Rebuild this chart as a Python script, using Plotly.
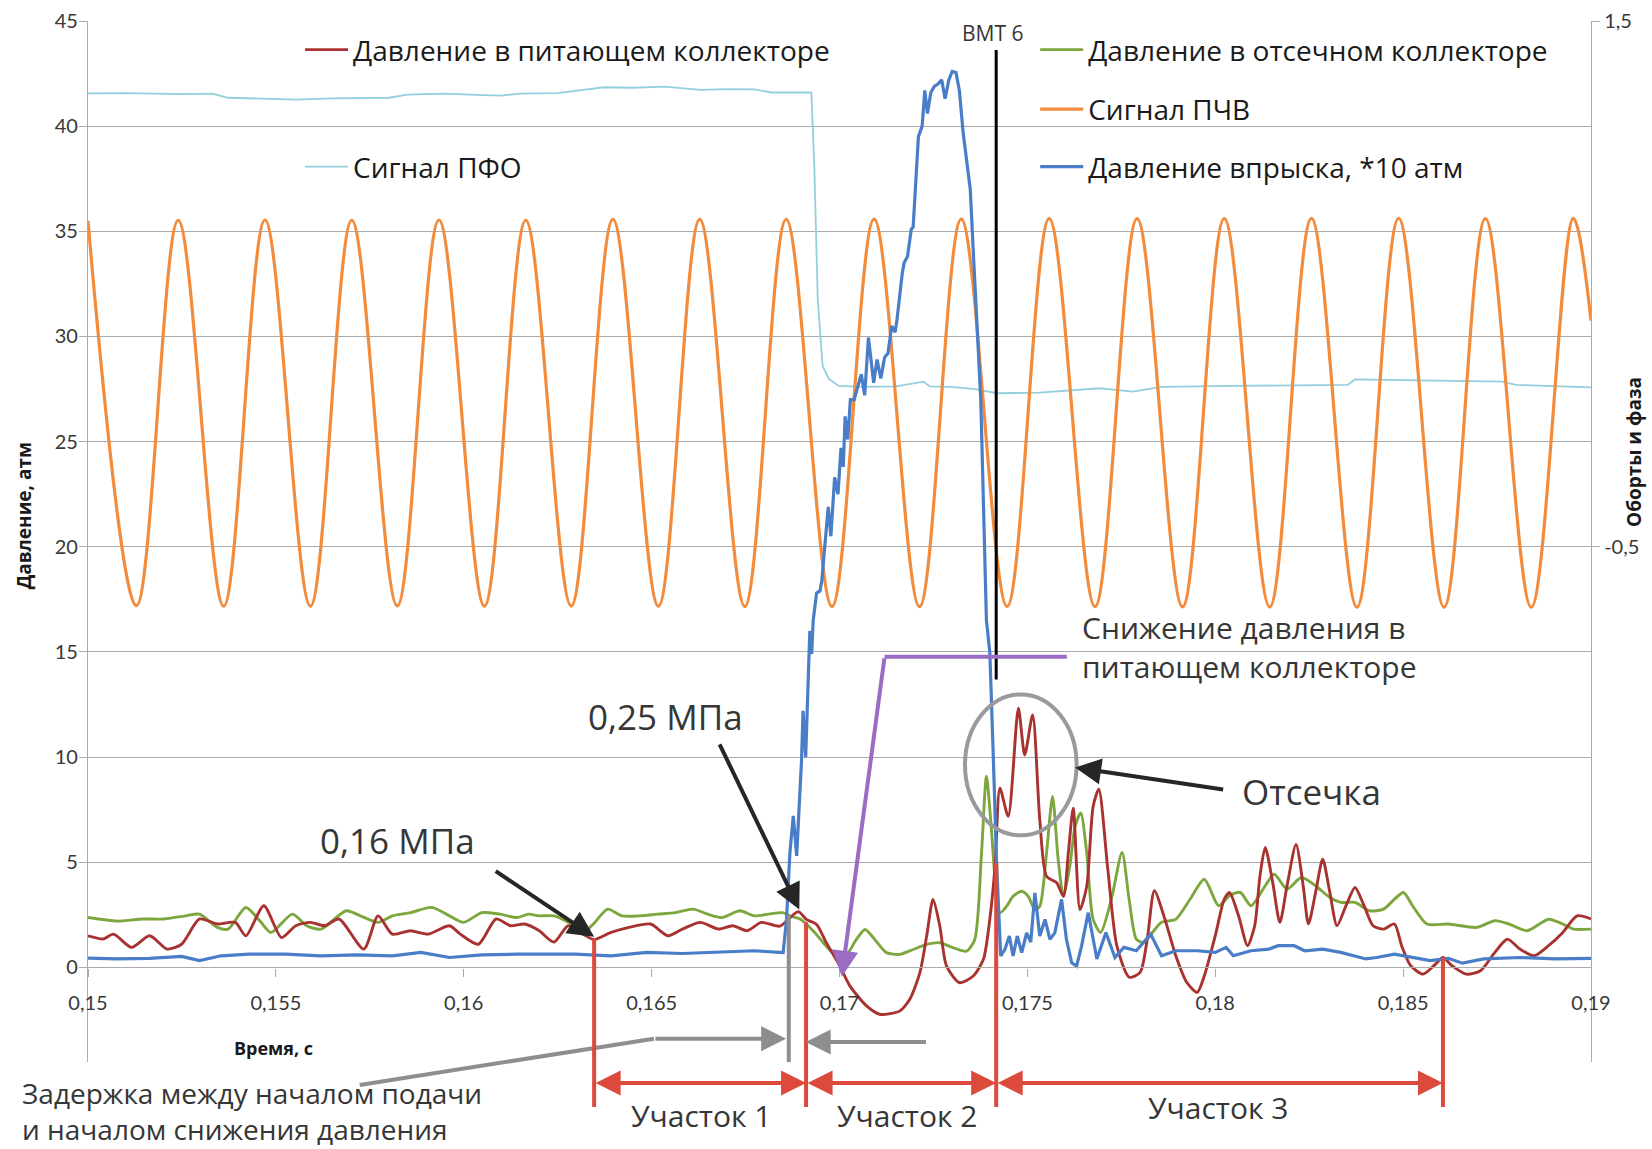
import plotly.graph_objects as go

# ---------------- data ----------------
# time, s
t_red = [0.15000, 0.15040, 0.15068, 0.15116, 0.15164, 0.15211, 0.15249, 0.15297, 0.15344, 0.15392,
         0.15420, 0.15468, 0.15515, 0.15553, 0.15592, 0.15630, 0.15668, 0.15734, 0.15772, 0.15810,
         0.15858, 0.15905, 0.15962, 0.15991, 0.16039, 0.16086, 0.16124, 0.16162, 0.16200, 0.16240,
         0.16278, 0.16320, 0.16347, 0.16392, 0.16440, 0.16497, 0.16544, 0.16582, 0.16630, 0.16678,
         0.16716, 0.16754, 0.16792, 0.16841, 0.16890, 0.16912, 0.16939, 0.16965, 0.17001, 0.17028,
         0.17072, 0.17107, 0.17135, 0.17161, 0.17187, 0.17214, 0.17232, 0.17249, 0.17267, 0.17285,
         0.17320, 0.17356, 0.17383, 0.17400, 0.17414, 0.17427, 0.17449, 0.17476, 0.17493, 0.17514,
         0.17533, 0.17551, 0.17578, 0.17596, 0.17609, 0.17622, 0.17640, 0.17658, 0.17675, 0.17690,
         0.17714, 0.17738, 0.17771, 0.17800, 0.17819, 0.17838, 0.17866, 0.17895, 0.17924, 0.17952,
         0.17971, 0.18000, 0.18024, 0.18038, 0.18062, 0.18086, 0.18105, 0.18119, 0.18133, 0.18153,
         0.18172, 0.18191, 0.18215, 0.18234, 0.18248, 0.18267, 0.18286, 0.18305, 0.18324, 0.18348,
         0.18372, 0.18396, 0.18420, 0.18448, 0.18477, 0.18496, 0.18520, 0.18553, 0.18582, 0.18606,
         0.18630, 0.18668, 0.18706, 0.18744, 0.18777, 0.18811, 0.18849, 0.18887, 0.18925, 0.18963,
         0.19000]
v_red = [1.50, 1.35, 1.58, 0.95, 1.50, 0.87, 1.10, 2.30, 2.06, 2.14,
         1.50, 2.93, 1.42, 1.98, 2.14, 1.98, 2.30, 0.87, 2.45, 1.58,
         1.74, 1.58, 1.98, 1.58, 1.10, 2.30, 1.98, 2.06, 1.75, 1.20,
         1.98, 1.55, 1.32, 1.66, 1.90, 2.06, 1.50, 1.82, 2.14, 1.82,
         1.98, 1.74, 2.14, 1.96, 2.65, 2.28, 2.04, 1.17, 0.06, -0.89,
         -1.83, -2.23, -2.20, -2.07, -1.52, -0.25, 1.49, 3.23, 1.96, 0.06,
         -0.73, -0.41, 0.38, 2.28, 4.81, 8.52, 7.18, 12.32, 10.10, 12.00,
         7.02, 4.33, 4.02, 3.38, 5.44, 7.57, 2.75, 3.86, 7.65, 8.47,
         4.67, 1.03, -0.47, -0.24, 1.34, 3.64, 2.29, 0.55, -0.71, -1.19,
         -0.40, 1.50, 3.24, 3.56, 2.45, 1.03, 1.98, 4.35, 5.70, 4.03,
         2.14, 3.88, 5.85, 3.88, 2.06, 3.56, 5.14, 3.56, 1.98, 2.93,
         3.80, 2.93, 1.98, 1.82, 2.06, 1.03, 0.08, -0.32, 0.08, 0.47,
         0.08, -0.32, -0.16, 0.71, 1.34, 0.87, 0.55, 1.03, 1.66, 2.45,
         2.30]

t_green = [0.15000, 0.15078, 0.15145, 0.15202, 0.15259, 0.15297, 0.15344, 0.15373, 0.15420, 0.15458,
           0.15487, 0.15544, 0.15582, 0.15620, 0.15687, 0.15725, 0.15772, 0.15810, 0.15858, 0.15915,
           0.15962, 0.16000, 0.16048, 0.16096, 0.16143, 0.16172, 0.16200, 0.16240, 0.16278, 0.16316,
           0.16345, 0.16383, 0.16421, 0.16468, 0.16516, 0.16563, 0.16611, 0.16649, 0.16687, 0.16735,
           0.16773, 0.16811, 0.16849, 0.16868, 0.16896, 0.16934, 0.16965, 0.16992, 0.17019, 0.17045,
           0.17068, 0.17090, 0.17125, 0.17161, 0.17196, 0.17232, 0.17267, 0.17303, 0.17338, 0.17360,
           0.17378, 0.17391, 0.17405, 0.17414, 0.17427, 0.17445, 0.17462, 0.17485, 0.17502, 0.17520,
           0.17533, 0.17551, 0.17567, 0.17582, 0.17596, 0.17613, 0.17627, 0.17642, 0.17658, 0.17675,
           0.17695, 0.17723, 0.17752, 0.17771, 0.17790, 0.17809, 0.17857, 0.17895, 0.17933, 0.17971,
           0.18009, 0.18038, 0.18067, 0.18095, 0.18133, 0.18157, 0.18191, 0.18229, 0.18267, 0.18305,
           0.18334, 0.18372, 0.18410, 0.18448, 0.18477, 0.18501, 0.18525, 0.18563, 0.18620, 0.18696,
           0.18744, 0.18782, 0.18830, 0.18887, 0.18925, 0.18954, 0.19000]
v_green = [2.37, 2.20, 2.30, 2.30, 2.45, 2.53, 1.90, 1.82, 2.85, 2.20,
           1.66, 2.53, 1.98, 1.82, 2.69, 2.45, 2.14, 2.45, 2.60, 2.85,
           2.45, 2.14, 2.60, 2.53, 2.37, 2.53, 2.45, 2.45, 2.14, 1.66,
           2.06, 2.77, 2.45, 2.45, 2.53, 2.60, 2.77, 2.53, 2.37, 2.69,
           2.45, 2.53, 2.60, 2.45, 2.29, 1.66, 1.00, 0.54, 0.62, 1.33,
           1.80, 1.41, 0.70, 0.62, 0.85, 1.09, 1.17, 0.93, 0.77, 1.33,
           5.44, 9.08, 6.39, 4.17, 2.59, 2.91, 3.38, 3.62, 3.38, 2.75,
           2.91, 5.44, 8.13, 5.12, 3.38, 4.81, 6.70, 7.34, 5.44, 2.28,
           1.66, 3.20, 5.46, 3.20, 1.34, 1.19, 2.14, 2.29, 3.24, 4.19,
           2.93, 3.40, 3.56, 2.93, 3.88, 4.43, 3.72, 4.27, 3.88, 3.32,
           3.09, 3.09, 2.69, 2.77, 3.24, 3.56, 2.93, 2.06, 2.06, 1.90,
           2.22, 2.06, 1.74, 2.29, 2.06, 1.82, 1.82]

t_blue = [0.15000, 0.15078, 0.15164, 0.15249, 0.15297, 0.15354, 0.15430, 0.15525, 0.15620, 0.15715,
          0.15810, 0.15886, 0.15962, 0.16048, 0.16143, 0.16255, 0.16297, 0.16392, 0.16487, 0.16582,
          0.16677, 0.16773, 0.16840, 0.16850, 0.16859, 0.16868, 0.16877, 0.16886, 0.16899, 0.16903,
          0.16910, 0.16917, 0.16921, 0.16926, 0.16930, 0.16939, 0.16948, 0.16953, 0.16963, 0.16970,
          0.16977, 0.16987, 0.16996, 0.17004, 0.17010, 0.17015, 0.17022, 0.17029, 0.17039, 0.17058,
          0.17067, 0.17077, 0.17091, 0.17100, 0.17110, 0.17120, 0.17129, 0.17139, 0.17148, 0.17153,
          0.17167, 0.17172, 0.17181, 0.17191, 0.17196, 0.17205, 0.17210, 0.17220, 0.17227, 0.17234,
          0.17243, 0.17253, 0.17262, 0.17272, 0.17281, 0.17291, 0.17300, 0.17310, 0.17319, 0.17329,
          0.17338, 0.17348, 0.17357, 0.17367, 0.17376, 0.17391, 0.17400, 0.17409, 0.17418, 0.17429,
          0.17440, 0.17452, 0.17462, 0.17473, 0.17485, 0.17498, 0.17509, 0.17520, 0.17533, 0.17547,
          0.17560, 0.17573, 0.17591, 0.17604, 0.17618, 0.17631, 0.17644, 0.17662, 0.17685, 0.17709,
          0.17733, 0.17757, 0.17790, 0.17828, 0.17857, 0.17895, 0.17952, 0.18000, 0.18029, 0.18048,
          0.18095, 0.18143, 0.18167, 0.18210, 0.18238, 0.18286, 0.18334, 0.18401, 0.18429, 0.18477,
          0.18525, 0.18572, 0.18620, 0.18658, 0.18715, 0.18811, 0.18906, 0.19000]
v_blue = [0.44, 0.40, 0.43, 0.52, 0.32, 0.55, 0.63, 0.63, 0.55, 0.59,
          0.55, 0.71, 0.47, 0.59, 0.63, 0.63, 0.63, 0.55, 0.71, 0.66,
          0.71, 0.79, 0.71, 0.70, 2.28, 5.44, 7.20, 5.30, 9.87, 12.20,
          10.00, 13.30, 16.00, 14.90, 16.50, 17.80, 17.90, 18.40, 20.60, 21.90,
          20.50, 23.30, 22.50, 24.70, 23.80, 26.20, 25.10, 27.00, 27.00, 28.20,
          27.20, 29.95, 27.80, 28.90, 28.00, 29.00, 29.20, 30.50, 30.20, 30.80,
          33.00, 33.50, 33.80, 35.10, 35.20, 38.10, 39.50, 40.00, 41.70, 40.60,
          41.60, 41.90, 42.00, 42.20, 41.30, 42.20, 42.60, 42.55, 41.70, 39.70,
          38.40, 37.00, 33.70, 30.20, 27.00, 16.50, 15.00, 10.20, 5.00, 0.54,
          0.85, 1.49, 0.54, 1.49, 0.70, 1.64, 1.20, 3.54, 1.49, 2.28,
          1.33, 1.64, 3.23, 1.33, 0.22, 0.06, 1.00, 2.60, 0.40, 1.66,
          0.47, 0.95, 0.79, 1.58, 0.55, 0.79, 0.79, 0.71, 0.95, 0.55,
          0.79, 0.87, 1.03, 1.03, 0.79, 0.87, 0.71, 0.40, 0.47, 0.63,
          0.47, 0.32, 0.43, 0.20, 0.40, 0.47, 0.40, 0.43]

# right axis ("Оборты и фаза") signals
t_pfo = [0.15000, 0.15100, 0.15250, 0.15330, 0.15373, 0.15450, 0.15553, 0.15650, 0.15801, 0.15850,
         0.15950, 0.16050, 0.16100, 0.16150, 0.16250, 0.16373, 0.16450, 0.16535, 0.16630, 0.16700,
         0.16773, 0.16820, 0.16925, 0.16933, 0.16942, 0.16955, 0.16972, 0.16998, 0.17058, 0.17150,
         0.17224, 0.17240, 0.17296, 0.17362, 0.17419, 0.17533, 0.17693, 0.17780, 0.17857, 0.18048,
         0.18353, 0.18372, 0.18525, 0.18763, 0.18801, 0.19000]
v_pfo = [1.225, 1.226, 1.222, 1.224, 1.208, 1.204, 1.201, 1.206, 1.208, 1.220,
         1.224, 1.218, 1.216, 1.224, 1.226, 1.248, 1.246, 1.250, 1.238, 1.241,
         1.240, 1.228, 1.228, 0.948, 0.444, 0.188, 0.138, 0.112, 0.108, 0.110,
         0.128, 0.110, 0.108, 0.100, 0.084, 0.086, 0.103, 0.090, 0.108, 0.112,
         0.116, 0.137, 0.134, 0.128, 0.116, 0.106]

t_pchv = [0.15000, 0.15129, 0.15240, 0.15361, 0.15471, 0.15592, 0.15702, 0.15823, 0.15934, 0.16055,
          0.16165, 0.16286, 0.16397, 0.16518, 0.16628, 0.16748, 0.16858, 0.16980, 0.17092, 0.17213,
          0.17324, 0.17446, 0.17558, 0.17680, 0.17792, 0.17913, 0.18024, 0.18145, 0.18256, 0.18377,
          0.18488, 0.18609, 0.18719, 0.18841, 0.18953, 0.19000]
v_pchv = [0.740, -0.724, 0.742, -0.726, 0.743, -0.726, 0.742, -0.725, 0.743, -0.726,
          0.742, -0.725, 0.745, -0.726, 0.745, -0.727, 0.745, -0.727, 0.746, -0.728,
          0.746, -0.727, 0.748, -0.728, 0.748, -0.729, 0.748, -0.729, 0.749, -0.730,
          0.749, -0.730, 0.748, -0.730, 0.749, 0.360]

for a, b in [(t_red, v_red), (t_green, v_green), (t_blue, v_blue), (t_pfo, v_pfo), (t_pchv, v_pchv)]:
    assert len(a) == len(b), (len(a), len(b))

series_names = ["Давление в питающем коллекторе", "Давление в отсечном коллекторе",
                "Сигнал ПЧВ", "Сигнал ПФО", "Давление впрыска, *10 атм"]

x_tickvals = [0.15, 0.155, 0.16, 0.165, 0.17, 0.175, 0.18, 0.185, 0.19]
x_ticktext = ["0,15", "0,155", "0,16", "0,165", "0,17", "0,175", "0,18", "0,185", "0,19"]
y_tickvals = [0, 5, 10, 15, 20, 25, 30, 35, 40, 45]
y2_tickvals = [1.5, -0.5]
y2_ticktext = ["1,5", "-0,5"]

# annotation anchors (data units)
t_bmt = 0.17417
t_sections = [0.16347, 0.16911, 0.17417, 0.18606]
v_section_tops = [1.35, 2.15, 4.95, 0.47]
section_labels = ["Участок 1", "Участок 2", "Участок 3"]

# ---------------- styling ----------------
YMIN, YMAX = -4.5, 45.0
Y2MAX = 1.5
Y2MIN = Y2MAX - (YMAX - YMIN) / 12.5   # right axis: 2 units per 25 left units

C_RED = "#A8322F"
C_GREEN = "#7EA63F"
C_ORANGE = "#F28C3C"
C_LBLUE = "#93CFDD"
C_BLUE = "#4A7DC8"
GRID = "#ABABAB"
TXT = "#363636"
NUMFONT = dict(family="Lato, Open Sans, sans-serif", size=20, color="#383838")


def yp(v):
    return (v - YMIN) / (YMAX - YMIN)


fig = go.Figure()
fig.add_trace(go.Scatter(x=t_pfo, y=v_pfo, yaxis="y2", mode="lines", name=series_names[3],
                         line=dict(color=C_LBLUE, width=1.8), legend="legend4"))
fig.add_trace(go.Scatter(x=t_pchv, y=v_pchv, yaxis="y2", mode="lines", name=series_names[2],
                         line=dict(color=C_ORANGE, width=3.2, shape="spline", smoothing=1.0),
                         legend="legend3"))
fig.add_trace(go.Scatter(x=t_green, y=v_green, yaxis="y", mode="lines", name=series_names[1],
                         line=dict(color=C_GREEN, width=2.9, shape="spline", smoothing=0.7),
                         legend="legend2"))
fig.add_trace(go.Scatter(x=t_red, y=v_red, yaxis="y", mode="lines", name=series_names[0],
                         line=dict(color=C_RED, width=2.9, shape="spline", smoothing=0.7),
                         legend="legend"))
fig.add_trace(go.Scatter(x=t_blue, y=v_blue, yaxis="y", mode="lines", name=series_names[4],
                         line=dict(color=C_BLUE, width=3.2), legend="legend5"))

shapes = []
# BMT line
shapes.append(dict(type="line", xref="x", yref="y", x0=t_bmt, x1=t_bmt, y0=13.69, y1=43.62,
                   line=dict(color="#000000", width=3)))
# purple horizontal part
shapes.append(dict(type="line", xref="x", yref="y", x0=0.17120, x1=0.17605, y0=14.77, y1=14.77,
                   line=dict(color="#9B6CC3", width=4)))
# cutoff ellipse
shapes.append(dict(type="circle", xref="x", yref="y", x0=0.17334, x1=0.17631, y0=6.28, y1=12.98,
                   line=dict(color="#9A9A9A", width=4)))
# grey delay marker
shapes.append(dict(type="line", xref="x", yref="paper", x0=0.16865, x1=0.16865, y0=0, y1=yp(2.5),
                   line=dict(color="#8E8E8E", width=4)))
shapes.append(dict(type="line", xref="x", yref="paper", x0=0.15723, x1=0.16506, y0=-0.0221, y1=yp(-3.39),
                   line=dict(color="#8E8E8E", width=4)))
# red section borders
for t, v in zip(t_sections, v_section_tops):
    shapes.append(dict(type="line", xref="x", yref="paper", x0=t, x1=t, y0=-0.0433, y1=yp(v),
                       line=dict(color="#DC4A3C", width=4)))

ann = []


def arrow(x, y, ax, ay, color, xref="x", yref="y", axref="x", ayref="y", side="end", size=1.3, width=4):
    return dict(x=x, y=y, ax=ax, ay=ay, xref=xref, yref=yref, axref=axref, ayref=ayref, text="",
                showarrow=True, arrowhead=2, arrowsize=size, arrowwidth=width, arrowcolor=color,
                arrowside=side, startarrowhead=2, startarrowsize=size, standoff=0, startstandoff=0)


ann.append(arrow(0.16347, 1.45, 0.16081, 4.62, "#262626"))
ann.append(arrow(0.16893, 2.75, 0.16679, 10.68, "#262626"))
ann.append(arrow(0.17627, 9.50, 0.18025, 8.45, "#262626"))
ann.append(arrow(0.17006, -0.45, 0.17120, 14.77, "#9B6CC3"))
ann.append(arrow(0.16858, -3.39, 0.16506, -3.39, "#8E8E8E", size=1.25))
ann.append(arrow(0.16910, -3.55, 0.17234, -3.55, "#8E8E8E", size=1.25))
for i in range(3):
    ann.append(arrow(t_sections[i + 1], -0.0202, t_sections[i], 0, "#DC4A3C", yref="paper",
                     ayref="pixel", side="end+start", size=1.25))


def label(text, x, y, size, xref="x", yref="y", xanchor="center", font="Open Sans", color=TXT,
          bold=False, angle=0):
    return dict(text=text, x=x, y=y, xref=xref, yref=yref, xanchor=xanchor, yanchor="middle",
                showarrow=False, align="left", textangle=angle,
                font=dict(family=font, size=size, color=color, weight=("bold" if bold else "normal")))


ann.append(label("ВМТ 6", 0.17408, 44.41, 21))
ann.append(label("0,16 МПа", 0.15825, 6.04, 35))
ann.append(label("0,25 МПа", 0.16537, 11.95, 35))
ann.append(label("Отсечка", 0.18257, 8.35, 35))
ann.append(label("Снижение давления в<br>питающем коллекторе", 0.17640, 15.24, 30, xanchor="left"))
ann.append(label(section_labels[0], 0.16632, -0.0510, 30, yref="paper"))
ann.append(label(section_labels[1], 0.17179, -0.0510, 30, yref="paper"))
ann.append(label(section_labels[2], 0.18007, -0.0433, 30, yref="paper"))
ann.append(label("Задержка между началом подачи<br>и началом снижения давления", -0.0455, -0.0475, 28,
                 xref="paper", yref="paper", xanchor="left"))
# axis titles
ann.append(label("Давление, атм", -0.0420, 0.525, 19, xref="paper", yref="paper",
                 color="#1a1a1a", bold=True, angle=-90))
ann.append(label("Оборты и фаза", 1.0286, 0.5860, 19, xref="paper", yref="paper",
                 color="#1a1a1a", bold=True, angle=-90))
ann.append(label("Время, с", 0.1231, 0.0134, 18, xref="paper", yref="paper",
                 color="#1a1a1a", bold=True))

legend_common = dict(bgcolor="rgba(0,0,0,0)", borderwidth=0, xanchor="left", yanchor="middle",
                     font=dict(family="Open Sans", size=28, color="#1a1a1a"), itemwidth=43,
                     orientation="v", itemclick=False, itemdoubleclick=False)

fig.update_layout(
    width=1652, height=1149,
    margin=dict(l=88, r=61, t=21, b=87, pad=0, autoexpand=False),
    plot_bgcolor="white", paper_bgcolor="white",
    font=dict(family="Open Sans", color=TXT),
    showlegend=True,
    legend=dict(x=0.1411, y=0.9722, **legend_common),
    legend2=dict(x=0.6302, y=0.9722, **legend_common),
    legend3=dict(x=0.6302, y=0.9150, **legend_common),
    legend4=dict(x=0.1411, y=0.8598, **legend_common),
    legend5=dict(x=0.6302, y=0.8598, **legend_common),
    xaxis=dict(range=[0.15, 0.19], anchor="free", position=yp(0), showgrid=False, zeroline=False,
               showline=True, linecolor=GRID, linewidth=1.3, automargin=False,
               tickmode="array", tickvals=x_tickvals, ticktext=x_ticktext,
               ticks="outside", ticklen=8, tickwidth=1.3, tickcolor=GRID,
               tickfont=NUMFONT, ticklabelstandoff=9),
    yaxis2=dict(range=[Y2MIN, Y2MAX], side="right", anchor="x", showgrid=False, zeroline=False,
                showline=True, linecolor=GRID, linewidth=1.3, automargin=False,
                tickmode="array", tickvals=y2_tickvals, ticktext=y2_ticktext,
                ticks="outside", ticklen=8, tickwidth=1.3, tickcolor=GRID,
                tickfont=NUMFONT, ticklabelstandoff=0),
    yaxis=dict(range=[YMIN, YMAX], side="left", overlaying="y2", anchor="x",
               showgrid=True, gridcolor=GRID, gridwidth=1.3, zeroline=False,
               showline=True, linecolor=GRID, linewidth=1.3, automargin=False,
               tickmode="array", tickvals=y_tickvals,
               ticks="outside", ticklen=8, tickwidth=1.3, tickcolor=GRID,
               tickfont=NUMFONT, ticklabelstandoff=-3),
    shapes=shapes,
    annotations=ann,
)

fig.write_html("out.html", config={"displayModeBar": False, "responsive": False},
               post_script="document.body.style.margin='0';document.body.style.overflow='hidden';")
